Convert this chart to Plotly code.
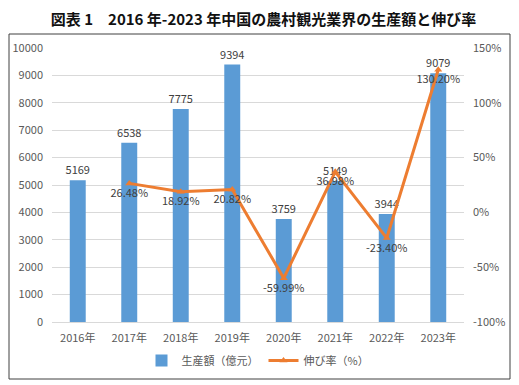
import plotly.graph_objects as go

years = ["2016年", "2017年", "2018年", "2019年", "2020年", "2021年", "2022年", "2023年"]
output_value = [5169, 6538, 7775, 9394, 3759, 5149, 3944, 9079]
growth_years = ["2017年", "2018年", "2019年", "2020年", "2021年", "2022年", "2023年"]
growth_rate = [26.48, 18.92, 20.82, -59.99, 36.98, -23.40, 130.20]
left_ticks = list(range(0, 10001, 1000))
right_ticks = [-100, -50, 0, 50, 100, 150]

FONT = "Noto Sans CJK SC"
GRAY = "#595959"
BLUE = "#5B9BD5"
ORANGE = "#ED7D31"

W, H = 511, 377
# plot area in figure pixels
PL, PR, PT, PB = 44, 456, 40, 314

fig = go.Figure()
fig.add_trace(go.Bar(
    x=years, y=output_value, name="生産額（億元）",
    marker=dict(color=BLUE, line=dict(width=0)),
    text=[str(v) for v in output_value], textposition="outside",
    textfont=dict(color="#404040", size=11, family=FONT),
    constraintext="none",
    cliponaxis=False,
))
fig.add_trace(go.Scatter(
    x=growth_years, y=growth_rate, name="伸び率（%）", yaxis="y2",
    mode="lines+markers+text",
    line=dict(color=ORANGE, width=3),
    marker=dict(symbol="triangle-up", size=7, color=ORANGE),
    text=[f"{v:.2f}%" for v in growth_rate], textposition="bottom center",
    textfont=dict(color="#404040", size=11, family=FONT),
    cliponaxis=False,
))

# outer chart frame drawn on a hidden full-figure pixel axis
FX0, FX1, FY_TOP, FY_BOT = 1, 502, 26, 371
fig.add_trace(go.Scatter(
    x=[FX0, FX1, FX1, FX0, FX0],
    y=[H - FY_BOT, H - FY_BOT, H - FY_TOP, H - FY_TOP, H - FY_BOT],
    xaxis="x3", yaxis="y3", mode="lines",
    line=dict(color="#404040", width=1),
    showlegend=False, hoverinfo="skip", cliponaxis=False,
))

fig.update_layout(
    width=W, height=H,
    margin=dict(l=0, r=0, t=0, b=0, autoexpand=False),
    paper_bgcolor="white", plot_bgcolor="rgba(0,0,0,0)",
    font=dict(family=FONT, color=GRAY, size=11),
    bargap=0.69,
    showlegend=True,
    legend=dict(orientation="h", x=(PL + PR) / 2 / W, xanchor="center",
                y=(H - 338) / H, yanchor="top",
                font=dict(size=11, color=GRAY, family=FONT), itemwidth=30),
    title=dict(text="<b>図表 1　2016 年-2023 年中国の農村観光業界の生産額と伸び率</b>",
               x=0.5, xanchor="center", y=0.984, yanchor="top",
               font=dict(size=15, color="#111111", family="Noto Sans CJK JP")),
    xaxis=dict(domain=[PL / W, PR / W], anchor="y", automargin=False,
               tickfont=dict(size=11, color=GRAY), showline=True, linecolor="#D9D9D9",
               ticks="", showgrid=False, ticklabelstandoff=6),
    yaxis=dict(domain=[(H - PB) / H, (H - PT) / H], anchor="x", automargin=False,
               range=[0, 10000], tickvals=left_ticks, ticktext=[str(v) for v in left_ticks],
               showgrid=True, gridcolor="#D9D9D9",
               gridwidth=1, zeroline=False, ticks="", tickfont=dict(size=11, color=GRAY),
               ticklabelstandoff=8),
    yaxis2=dict(range=[-100, 150], tickvals=right_ticks, ticktext=[f"{v}%" for v in right_ticks],
                overlaying="y", side="right", anchor="x", automargin=False,
                showgrid=False, zeroline=False,
                tickfont=dict(size=11, color=GRAY), ticklabelstandoff=8),
    xaxis3=dict(domain=[0, 1], range=[0, W], anchor="y3", visible=False, fixedrange=True,
                automargin=False),
    yaxis3=dict(domain=[0, 1], range=[0, H], anchor="x3", visible=False, fixedrange=True,
                automargin=False),
)

fig.write_html("out.html")
